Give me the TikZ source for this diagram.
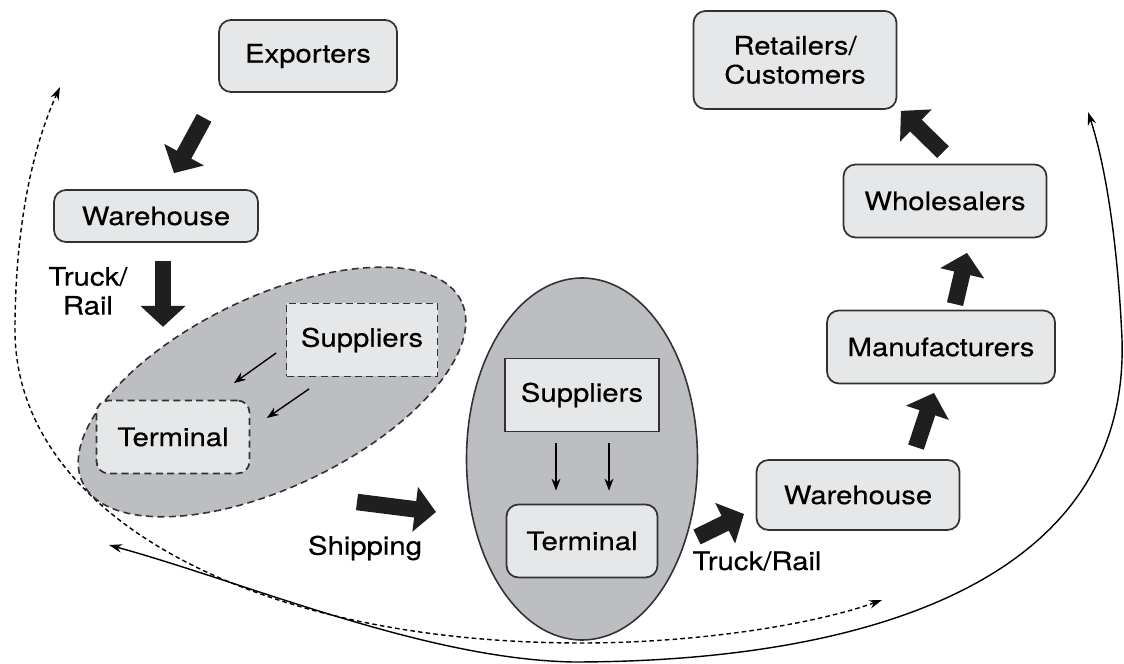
\documentclass[tikz,border=0pt]{standalone}
\usepackage{fontspec}
\setmainfont[FakeStretch=1.15, FakeBold=0.35]{TeX Gyre Heros}
\usetikzlibrary{shapes.geometric, arrows.meta, calc}

\definecolor{boxgray}{RGB}{230,231,232}
\definecolor{zonegray}{RGB}{189,190,193}
\definecolor{edgegray}{RGB}{50,50,50}

\begin{document}
\begin{tikzpicture}[
    font=\fontsize{14.5}{16.5}\selectfont,
    box/.style={draw=edgegray, line width=1pt, fill=boxgray, rounded corners=0.24cm, align=center, inner sep=0pt},
    zone/.style={ellipse, draw=edgegray, line width=0.9pt, fill=zonegray, inner sep=0pt},
    bigarrow/.style={line width=0.33cm, draw=black!88, -{Triangle[width=0.88cm, length=0.42cm]}},
    thinarrow/.style={line width=0.8pt, -{Stealth[length=0.24cm, width=0.18cm]}},
    flow/.style={line width=0.8pt, {Stealth[length=0.26cm, width=0.17cm]}-{Stealth[length=0.26cm, width=0.17cm]}}
]
\useasboundingbox (0,0) rectangle (22.48,13.28);

% Return loops round the whole chain
\coordinate (loopL) at (2.18,2.38);
\coordinate (loopR) at (21.76,11.04);
\draw[flow] (loopL) .. controls (5,1.6) and (8.5,0.1) .. (11.46,0.04)
    .. controls (17,0.04) and (22.6,1.5) .. (22.44,6.5)
    .. controls (22.35,8.5) and (22.1,10) .. (loopR);

\coordinate (dashR) at (17.64,1.28);
\coordinate (dashL) at (1.2,11.54);
\draw[flow, dash pattern=on 2.6pt off 1.8pt] (dashR) .. controls (16.3,0.8) and (14,0.42) .. (11.62,0.42)
    .. controls (5,0.42) and (0.3,3) .. (0.30,6.68)
    .. controls (0.3,8.2) and (0.5,10) .. (dashL);

% Port zones
\node[zone, dash pattern=on 4pt off 2.5pt, minimum width=8.4cm, minimum height=3.8cm, rotate=25.6] (zoneL) at (5.44,5.44) {};
\node[zone, minimum width=4.62cm, minimum height=7.24cm] (zoneM) at (11.64,4.10) {};

% Stages
\node[box, minimum width=3.56cm, minimum height=1.44cm] (exp) at (6.16,12.16) {Exporters};
\node[box, minimum width=4.08cm, minimum height=1.04cm] (whL) at (3.12,8.96) {Warehouse};
\node[box, sharp corners, dash pattern=on 4pt off 2.5pt, minimum width=3.02cm, minimum height=1.46cm] (supL) at (7.24,6.48) {Suppliers};
\node[box, dash pattern=on 4pt off 2.5pt, minimum width=3.06cm, minimum height=1.46cm] (termL) at (3.46,4.54) {Terminal};
\node[box, sharp corners, minimum width=3.08cm, minimum height=1.46cm] (supM) at (11.64,5.38) {Suppliers};
\node[box, minimum width=3.02cm, minimum height=1.46cm] (termM) at (11.64,2.46) {Terminal};
\node[box, minimum width=4.06cm, minimum height=1.40cm] (whR) at (17.16,3.38) {Warehouse};
\node[box, minimum width=4.56cm, minimum height=1.46cm] (man) at (18.82,6.34) {Manufacturers};
\node[box, minimum width=4.06cm, minimum height=1.46cm] (whs) at (18.90,9.26) {Wholesalers};
\node[box, minimum width=4.06cm, minimum height=1.96cm] (ret) at (15.90,12.08) {Retailers/\\Customers};

% Transport labels
\node[align=center] (trL) at (1.76,7.46) {Truck/\\Rail};
\node (ship) at (7.30,2.32) {Shipping};
\node (trR) at (15.14,2.06) {Truck/Rail};

% Main flow
\draw[bigarrow] ($(exp.south west)+(-0.28,-0.50)$) -- ($(whL.north)+(0.36,0.32)$);
\draw[bigarrow] ($(whL.south)+(0.14,-0.36)$) -- ($(whL.south)+(0.14,-1.68)$);
\draw[bigarrow] ($(ship)+(-0.16,0.92)$) -- ($(ship)+(1.42,0.72)$);
\draw[bigarrow] ($(trR)+(-1.20,0.48)$) -- ($(trR)+(-0.26,0.94)$);
\draw[bigarrow] ($(whR.north)+(1.16,0.24)$) -- ($(man.south)+(-0.14,-0.17)$);
\draw[bigarrow] ($(man.north)+(0.28,0.11)$) -- ($(whs.south)+(0.44,-0.29)$);
\draw[bigarrow] ($(whs.north)+(-0.04,0.23)$) -- ($(ret.south east)+(0.07,-0.02)$);

% Inside the zones
\draw[thinarrow] ($(supL.west)+(-0.19,-0.26)$) -- ($(termL.north east)+(-0.33,0.33)$);
\draw[thinarrow] ($(supL.south west)+(0.47,-0.23)$) -- ($(termL.east)+(0.33,0.38)$);
\draw[thinarrow] ($(supM.south)+(-0.52,-0.22)$) -- ($(termM.north)+(-0.52,0.26)$);
\draw[thinarrow] ($(supM.south)+(0.54,-0.22)$) -- ($(termM.north)+(0.54,0.26)$);

\end{tikzpicture}
\end{document}
